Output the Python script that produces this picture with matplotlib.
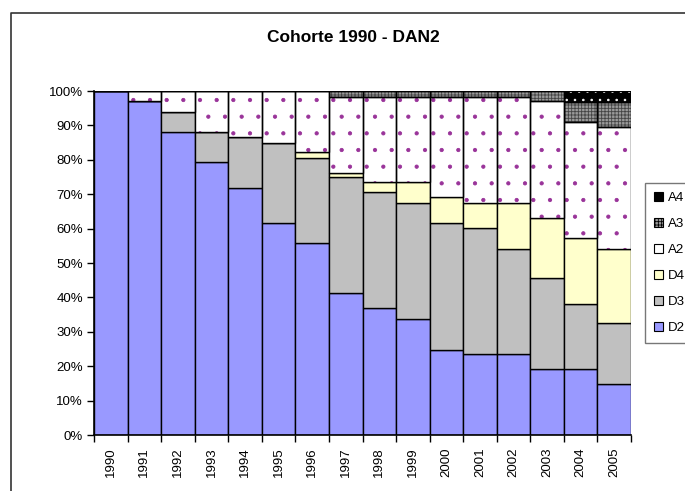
import matplotlib
matplotlib.use('Agg')
import matplotlib.pyplot as plt
from matplotlib.patches import Patch
from matplotlib.lines import Line2D
import numpy as np

plt.rcParams['font.family'] = ['Liberation Sans', 'DejaVu Sans']
plt.rcParams['hatch.linewidth'] = 0.6

years = ['1990', '1991', '1992', '1993', '1994', '1995', '1996', '1997',
         '1998', '1999', '2000', '2001', '2002', '2003', '2004', '2005']

# part de chaque état dans la cohorte (%)
d2 = [100.0, 97.2, 88.2, 79.4, 71.7, 61.7, 55.7, 41.2,
      36.8, 33.7, 24.8, 23.5, 23.6, 19.2, 19.2, 14.7]
d3 = [0.0, 0.0, 5.7, 8.8, 14.9, 23.3, 24.7, 33.7,
      33.8, 33.7, 36.9, 36.7, 30.5, 26.4, 19.0, 17.8]
d4 = [0.0, 0.0, 0.0, 0.0, 0.0, 0.0, 1.9, 1.2,
      2.9, 6.1, 7.4, 7.2, 13.3, 17.5, 19.1, 21.6]
a2 = [0.0, 2.8, 6.1, 11.8, 13.4, 15.0, 17.7, 22.1,
      24.7, 24.7, 29.1, 30.8, 30.8, 34.0, 33.6, 35.3]
a3 = [0.0, 0.0, 0.0, 0.0, 0.0, 0.0, 0.0, 1.8,
      1.8, 1.8, 1.8, 1.8, 1.8, 2.9, 6.0, 7.5]
a4 = [0.0, 0.0, 0.0, 0.0, 0.0, 0.0, 0.0, 0.0,
      0.0, 0.0, 0.0, 0.0, 0.0, 0.0, 3.1, 3.1]

series = [
    ('D2', d2, dict(facecolor='#9999FF')),
    ('D3', d3, dict(facecolor='#C0C0C0')),
    ('D4', d4, dict(facecolor='#FFFFCC')),
    ('A2', a2, dict(facecolor='white', hatch='.', hatchcol='#993399')),
    ('A3', a3, dict(facecolor='#9A9A9A', hatch='+++++', hatchcol='#444444')),
    ('A4', a4, dict(facecolor='black', hatch='..', hatchcol='white')),
]

W, H = 685, 491
fig = plt.figure(figsize=(W / 100, H / 100), dpi=100)
ax = fig.add_axes([94 / W, 1 - 435 / H, (631 - 94) / W, (435 - 91) / H])

x = np.arange(len(years))
bottom = np.zeros(len(years))
handles = []
for name, vals, st in series:
    vals = np.array(vals) / 100.0
    if 'hatch' in st:
        # motif dessiné dans la couleur du hachurage, contour ajouté ensuite
        ax.bar(x, vals, width=1.0, bottom=bottom, facecolor=st['facecolor'],
               edgecolor=st['hatchcol'], hatch=st['hatch'], linewidth=0, zorder=2)
        ax.bar(x, vals, width=1.0, bottom=bottom, fill=False,
               edgecolor='black', linewidth=1.0, zorder=3)
        leg_hatch = st['hatch'] if name == 'A3' else None
        h = Patch(facecolor=st['facecolor'], edgecolor='black',
                  hatch=leg_hatch, linewidth=0.8)
    else:
        ax.bar(x, vals, width=1.0, bottom=bottom, facecolor=st['facecolor'],
               edgecolor='black', linewidth=1.0, zorder=2)
        h = Patch(facecolor=st['facecolor'], edgecolor='black', linewidth=0.8)
    handles.append((h, name))
    bottom += vals

ax.set_xlim(-0.5, len(years) - 0.5)
ax.set_ylim(0, 1)
ax.set_yticks(np.arange(0, 1.01, 0.1))
ax.set_yticklabels([f'{int(round(v * 100))}%' for v in np.arange(0, 1.01, 0.1)])
ax.set_xticks(x)
ax.set_xticklabels(years, rotation=90)
ax.set_xticks(np.arange(-0.5, len(years)), minor=True)
ax.tick_params(axis='x', which='major', length=0, pad=9, labelsize=9.5)
ax.tick_params(axis='x', which='minor', length=5, width=1, color='black')
ax.tick_params(axis='y', length=5, width=1, labelsize=9.5, pad=3)
for s in ['top', 'right']:
    ax.spines[s].set_visible(False)
for s in ['left', 'bottom']:
    ax.spines[s].set_linewidth(1.2)
    ax.spines[s].set_zorder(4)

fig.text(353 / W, 1 - 38 / H, 'Cohorte 1990 - DAN2', ha='center', va='center',
         fontsize=12.5, fontweight='bold')

hs = [h for h, _ in handles][::-1]
ls = [n for _, n in handles][::-1]
leg = fig.legend(hs, ls, loc='upper left', bbox_to_anchor=(645 / W, 1 - 183 / H),
                 frameon=True, fancybox=False, fontsize=9.5, handlelength=0.65,
                 handleheight=0.65, handletextpad=0.4, labelspacing=1.05,
                 borderpad=0.7, borderaxespad=0)
leg.get_frame().set_edgecolor('#555555')
leg.get_frame().set_linewidth(1.0)

# cadre du graphique
fig.add_artist(Line2D([11 / W, 11 / W, 1.0], [0.0, 1 - 13 / H, 1 - 13 / H],
                      color='#333333', linewidth=1.2, transform=fig.transFigure))

fig.savefig('out.png', dpi=100)
